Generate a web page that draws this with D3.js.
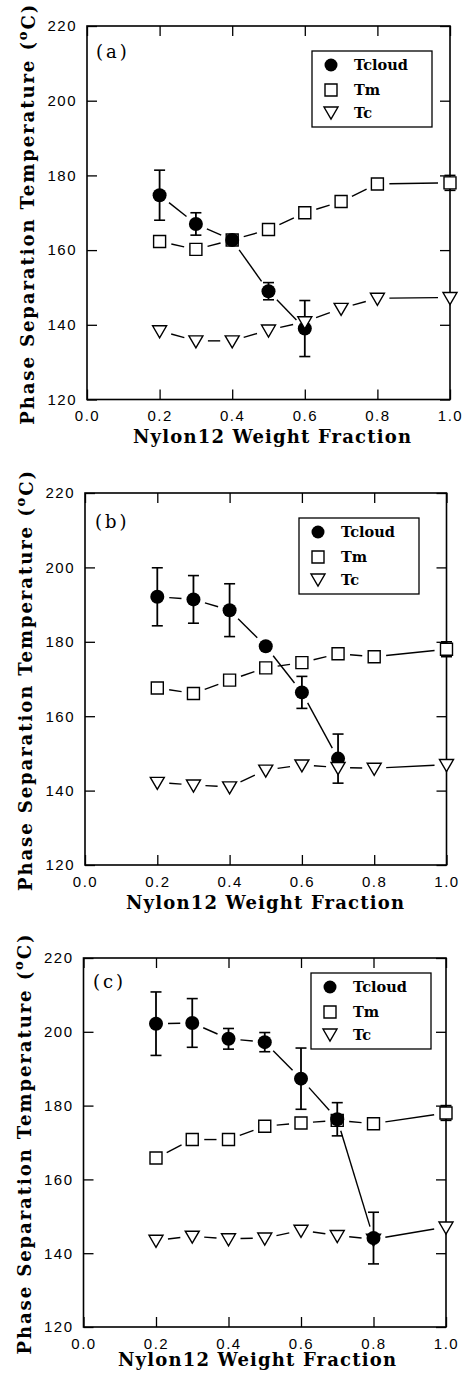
<!DOCTYPE html>
<html>
<head>
<meta charset="utf-8">
<script src="https://cdn.jsdelivr.net/npm/d3@7"></script>
<style>
  body { margin: 0; background: #fff; }
  .tick text { font-family: "Liberation Sans", Arial, sans-serif; font-size: 15px; letter-spacing: 1.5px; fill: #000; }
  .title { font-family: "DejaVu Serif", "Liberation Serif", serif; font-weight: bold; font-size: 18px; fill: #000; }
  .leg { font-family: "DejaVu Serif", "Liberation Serif", serif; font-weight: bold; font-size: 14.5px; fill: #000; }
  .tag { font-family: "DejaVu Serif", "Liberation Serif", serif; font-size: 18px; letter-spacing: 3px; fill: #000; }
</style>
</head>
<body>
<div id="chart"></div>
<script>
// x positions (nylon12 weight fraction)
const xFrac = [0.2, 0.3, 0.4, 0.5, 0.6, 0.7, 0.8, 1.0]
const xTicks = [0.0, 0.2, 0.4, 0.6, 0.8, 1.0]
const yTicks = [120, 140, 160, 180, 200, 220]
const legendNames = ["Tcloud", "Tm", "Tc"]
const panelTags = ["(a)", "(b)", "(c)"]

// panel (a)
const cloudXa = [0.2, 0.3, 0.4, 0.5, 0.6]
const cloudA = [174.7, 167.0, 162.7, 149.0, 139.0]
const cloudErrA = [6.7, 3.0, 0, 2.3, 7.5]
const tmA = [162.3, 160.2, 162.7, 165.5, 170.0, 173.0, 177.7, 178.0]
const tmErrA = [0, 0, 0, 0, 0, 0, 0, 2]
const tcA = [138.4, 135.7, 135.7, 138.6, 140.8, 144.4, 147.1, 147.3]

// panel (b)
const cloudXb = [0.2, 0.3, 0.4, 0.5, 0.6, 0.7]
const cloudB = [192.1, 191.4, 188.5, 178.8, 166.4, 148.6]
const cloudErrB = [7.8, 6.4, 7.1, 0, 4.3, 6.6]
const tmB = [167.6, 166.1, 169.7, 173.0, 174.4, 176.8, 176.0, 178.0]
const tmErrB = [0, 0, 0, 0, 0, 0, 0, 2]
const tcB = [142.2, 141.5, 141.0, 145.5, 146.9, 146.2, 146.0, 147.0]

// panel (c)
const cloudXc = [0.2, 0.3, 0.4, 0.5, 0.6, 0.7, 0.8]
const cloudC = [202.2, 202.4, 198.1, 197.2, 187.3, 176.3, 144.1]
const cloudErrC = [8.6, 6.6, 2.8, 2.6, 8.3, 4.5, 7.0]
const tmC = [165.8, 170.8, 170.8, 174.4, 175.3, 176.0, 175.1, 178.0]
const tmErrC = [0, 0, 0, 0, 0, 0, 0, 2]
const tcC = [143.5, 144.6, 143.9, 144.1, 146.2, 144.8, 143.8, 147.1]

// layout of each panel (pixels)
const layout = [
    { top: 26, bottom: 399.5, left: 87, right: 450, legX: 312, legY: 51, tagX: 96, tagY: 58, titleX: 272, titleY: 443, order: ["tm", "cloud", "tc"] },
    { top: 493, bottom: 865, left: 85, right: 446.5, legX: 299, legY: 518, tagX: 95, tagY: 528, titleX: 265, titleY: 909, order: ["tm", "cloud", "tc"] },
    { top: 958, bottom: 1327, left: 83.5, right: 446, legX: 311, legY: 973, tagX: 93, tagY: 988, titleX: 257, titleY: 1366, order: ["tm", "tc", "cloud"] }
]

const panels = [
    { cloudX: cloudXa, cloud: cloudA, cloudErr: cloudErrA, tm: tmA, tmErr: tmErrA, tc: tcA },
    { cloudX: cloudXb, cloud: cloudB, cloudErr: cloudErrB, tm: tmB, tmErr: tmErrB, tc: tcB },
    { cloudX: cloudXc, cloud: cloudC, cloudErr: cloudErrC, tm: tmC, tmErr: tmErrC, tc: tcC }
]

const W = 462
const H = 1374
const gap = 12 // lines stop short of the markers

const svg = d3.select("#chart").append("svg")
    .attr("width", W)
    .attr("height", H)

function squarePath(cx, cy) {
    const s = 6
    return `M${cx - s},${cy - s}H${cx + s}V${cy + s}H${cx - s}Z`
}

function triPath(cx, cy) {
    return `M${cx - 7},${cy - 5}L${cx + 7},${cy - 5}L${cx},${cy + 7}Z`
}

// broken connecting line: one short segment between each pair of points
function drawSegments(g, pts) {
    for (let i = 0; i < pts.length - 1; i++) {
        const p = pts[i], q = pts[i + 1]
        const dx = q[0] - p[0], dy = q[1] - p[1]
        const d = Math.sqrt(dx * dx + dy * dy)
        if (d <= gap * 2 + 1) continue
        const ux = dx / d, uy = dy / d
        g.append("line")
            .attr("x1", p[0] + ux * gap).attr("y1", p[1] + uy * gap)
            .attr("x2", q[0] - ux * gap).attr("y2", q[1] - uy * gap)
            .attr("stroke", "#000")
            .attr("stroke-width", 1.4)
    }
}

function drawErrors(g, x, y, xs, vals, errs) {
    xs.forEach((xv, i) => {
        if (!errs[i]) return
        const px = x(xv)
        const y1 = y(vals[i] + errs[i]), y2 = y(vals[i] - errs[i])
        g.append("line").attr("x1", px).attr("x2", px).attr("y1", y1).attr("y2", y2)
            .attr("stroke", "#000").attr("stroke-width", 1.8)
        ;[y1, y2].forEach((yy) => {
            g.append("line").attr("x1", px - 5.5).attr("x2", px + 5.5).attr("y1", yy).attr("y2", yy)
                .attr("stroke", "#000").attr("stroke-width", 1.6)
        })
    })
}

function drawPanel(idx) {
    const L = layout[idx]
    const P = panels[idx]
    const x = d3.scaleLinear().domain([0, 1]).range([L.left, L.right])
    const y = d3.scaleLinear().domain([120, 220]).range([L.bottom, L.top])
    const g = svg.append("g")
    const pw = L.right - L.left, ph = L.bottom - L.top

    // axes with inward ticks on all four sides
    g.append("g").attr("transform", `translate(0,${L.bottom})`)
        .call(d3.axisBottom(x).tickValues(xTicks).tickSizeInner(-10).tickSizeOuter(0).tickPadding(11).tickFormat(d3.format(".1f")))
    g.append("g").attr("transform", `translate(0,${L.top})`)
        .call(d3.axisTop(x).tickValues(xTicks).tickSizeInner(-10).tickSizeOuter(0).tickFormat(""))
    g.append("g").attr("transform", `translate(${L.left},0)`)
        .call(d3.axisLeft(y).tickValues(yTicks).tickSizeInner(-10).tickSizeOuter(0).tickPadding(10))
    g.append("g").attr("transform", `translate(${L.right},0)`)
        .call(d3.axisRight(y).tickValues(yTicks).tickSizeInner(-10).tickSizeOuter(0).tickFormat(""))
    g.selectAll(".domain").remove()
    g.selectAll(".tick line").attr("stroke", "#000").attr("stroke-width", 1.3)

    g.append("rect")
        .attr("x", L.left).attr("y", L.top)
        .attr("width", pw).attr("height", ph)
        .attr("fill", "none").attr("stroke", "#000").attr("stroke-width", 1.6)

    // axis titles
    g.append("text").attr("class", "title")
        .attr("x", L.titleX).attr("y", L.titleY)
        .attr("text-anchor", "middle")
        .attr("textLength", 278).attr("lengthAdjust", "spacing")
        .text("Nylon12 Weight Fraction")

    const yt = g.append("text").attr("class", "title")
        .attr("transform", `translate(${L.left - 59},${L.top + ph / 2 + 2}) rotate(-90)`)
        .attr("text-anchor", "middle")
        .attr("dy", "0.35em")
        .attr("textLength", 420).attr("lengthAdjust", "spacing")
    yt.append("tspan").text("Phase Separation Temperature (")
    yt.append("tspan").attr("font-size", "13px").attr("dy", "-0.6em").text("o")
    yt.append("tspan").attr("dy", "0.45em").text("C)")

    g.append("text").attr("class", "tag")
        .attr("x", L.tagX).attr("y", L.tagY)
        .text(panelTags[idx])

    const cloudPts = P.cloudX.map((d, i) => [x(d), y(P.cloud[i])])
    const tmPts = xFrac.map((d, i) => [x(d), y(P.tm[i])])
    const tcPts = xFrac.map((d, i) => [x(d), y(P.tc[i])])

    // lines first, markers on top
    drawSegments(g, tmPts)
    drawSegments(g, cloudPts)
    drawSegments(g, tcPts)

    const drawers = {
        tm: () => {
            drawErrors(g, x, y, xFrac, P.tm, P.tmErr)
            g.selectAll(null).data(tmPts).enter().append("path")
                .attr("d", (d) => squarePath(d[0], d[1]))
                .attr("fill", "#fff").attr("stroke", "#000").attr("stroke-width", 1.4)
        },
        cloud: () => {
            drawErrors(g, x, y, P.cloudX, P.cloud, P.cloudErr)
            g.selectAll(null).data(cloudPts).enter().append("circle")
                .attr("cx", (d) => d[0]).attr("cy", (d) => d[1]).attr("r", 7)
                .attr("fill", "#000")
        },
        tc: () => {
            g.selectAll(null).data(tcPts).enter().append("path")
                .attr("d", (d) => triPath(d[0], d[1]))
                .attr("fill", "#fff").attr("stroke", "#000").attr("stroke-width", 1.4)
        }
    }
    L.order.forEach((k) => drawers[k]())

    // legend
    const lg = g.append("g").attr("transform", `translate(${L.legX},${L.legY})`)
    lg.append("rect").attr("width", 120).attr("height", 76)
        .attr("fill", "#fff").attr("stroke", "#000").attr("stroke-width", 1.3)
    lg.append("circle").attr("cx", 19).attr("cy", 14).attr("r", 6.5).attr("fill", "#000")
    lg.append("path").attr("d", squarePath(19, 39)).attr("fill", "#fff").attr("stroke", "#000").attr("stroke-width", 1.4)
    lg.append("path").attr("d", triPath(19, 61)).attr("fill", "#fff").attr("stroke", "#000").attr("stroke-width", 1.4)
    legendNames.forEach((name, i) => {
        lg.append("text").attr("class", "leg")
            .attr("x", 42).attr("y", [14, 39, 62][i] + 5)
            .text(name)
    })
}

panels.forEach((p, i) => drawPanel(i))
</script>
</body>
</html>
